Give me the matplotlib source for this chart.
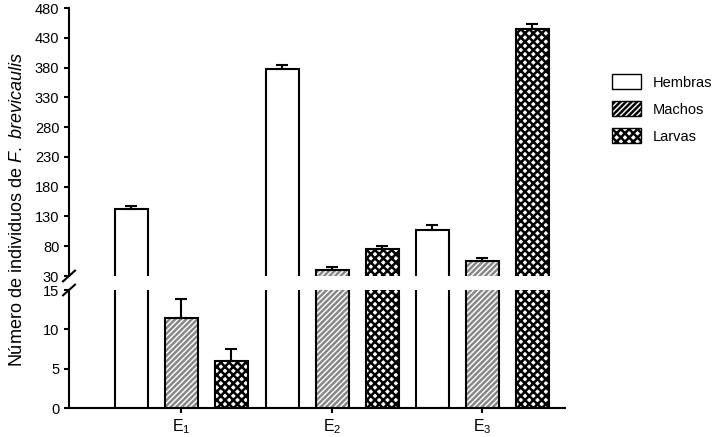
import matplotlib
matplotlib.use("Agg")
import matplotlib.pyplot as plt
from matplotlib.patches import Patch

plt.rcParams['font.family'] = ['Liberation Sans', 'DejaVu Sans']
plt.rcParams['mathtext.fontset'] = 'custom'
plt.rcParams['mathtext.rm'] = 'Liberation Sans'
plt.rcParams['mathtext.it'] = 'Liberation Sans:italic'
plt.rcParams['hatch.linewidth'] = 1.8

groups = ['E$_1$', 'E$_2$', 'E$_3$']
series = ['Hembras', 'Machos', 'Larvas']
values = {'Hembras': [142, 378, 108], 'Machos': [11.5, 40, 55], 'Larvas': [6, 75, 445]}
errors = {'Hembras': [5, 7, 8], 'Machos': [2.3, 5, 5], 'Larvas': [1.5, 6, 8]}
top_ticks = [30, 80, 130, 180, 230, 280, 330, 380, 430, 480]
bot_ticks = [0, 5, 10, 15]

centers = [112, 263, 413]
offsets = {'Hembras': -50, 'Machos': 0, 'Larvas': 50}
styles = {'Hembras': dict(color='white', hatch=None, hc='black'),
          'Machos': dict(color='white', hatch='//////', hc='#888888'),
          'Larvas': dict(color='white', hatch='xxxx', hc='black')}

fig = plt.figure(figsize=(7.13, 4.37), dpi=100)
L, W = 69/713, 496/713
ax_t = fig.add_axes([L, (437-276)/437, W, 268/437])
ax_b = fig.add_axes([L, (437-408)/437, W, 118/437])

for ax in (ax_t, ax_b):
    for s in series:
        xs = [c + offsets[s] for c in centers]
        st = styles[s]
        ax.bar(xs, values[s], width=33, color=st['color'], hatch=st['hatch'],
               edgecolor=st['hc'], linewidth=0)
        ax.bar(xs, values[s], width=33, fill=False, edgecolor='black', linewidth=1.5)
        ax.errorbar(xs, values[s], yerr=[[0]*3, errors[s]], fmt='none',
                    ecolor='black', elinewidth=1.5, capsize=4, capthick=1.5)
    ax.set_xlim(0, 496)
    ax.spines['top'].set_visible(False)
    ax.spines['right'].set_visible(False)
    ax.spines['left'].set_linewidth(1.5)
    ax.tick_params(width=1.5, labelsize=10.5)

ax_t.set_ylim(30, 480)
ax_t.set_yticks(top_ticks)
ax_t.spines['bottom'].set_visible(False)
ax_t.set_xticks([])
ax_b.set_ylim(0, 15)
ax_b.set_yticks(bot_ticks)
ax_b.spines['bottom'].set_linewidth(1.5)
ax_b.set_xticks(centers)
ax_b.set_xticklabels(groups, fontsize=11.5)

d = 0.012
kw = dict(color='black', clip_on=False, linewidth=1.5)
ax_t.plot((-d, d), (-0.02, 0.02), transform=ax_t.transAxes, **kw)
ax_b.plot((-d, d), (1-0.045, 1+0.045), transform=ax_b.transAxes, **kw)

fig.text(0.025, 0.52, r'Número de individuos de $\mathit{F.\ brevicaulis}$', rotation=90,
         va='center', ha='center', fontsize=13)

handles = [Patch(facecolor='white', edgecolor='black', hatch=styles[s]['hatch'], label=s)
           for s in series]
fig.legend(handles=handles, loc='upper left', bbox_to_anchor=(0.84, 0.86),
           frameon=False, fontsize=10.5, handlelength=2.0, handleheight=1.2,
           labelspacing=0.8)

fig.savefig('out.png', dpi=100)
